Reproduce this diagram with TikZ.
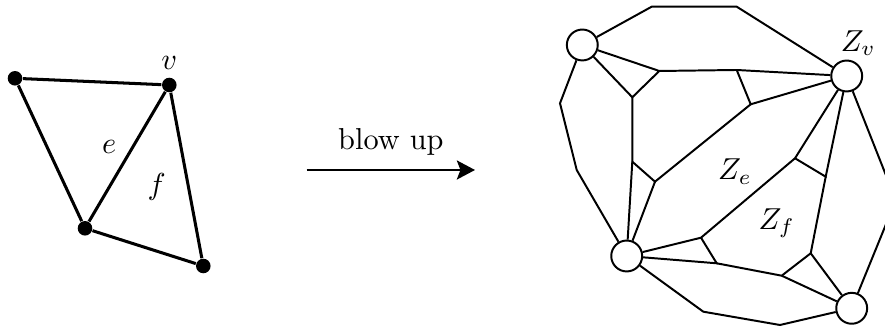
\documentclass[tikz,border=0pt]{standalone}
\usetikzlibrary{arrows.meta}

\begin{document}
\begin{tikzpicture}[x=0.33pt, y=-0.33pt,
    dot/.style={circle, fill=black, inner sep=0pt, minimum size=4.8pt},
    zone/.style={circle, draw, line width=0.65pt, fill=white, inner sep=0pt, minimum size=10.2pt},
    edge/.style={line width=1pt},
    wall/.style={line width=0.65pt}]
    \useasboundingbox (0,0) rectangle (885,329);

    % Original graph with vertex v, edge e, face f
    \node[dot] (p1) at (15,78.3) {};
    \node[dot] (pv) at (169.3,85) {};
    \node[dot] (p3) at (85,228.3) {};
    \node[dot] (p4) at (203.3,266) {};
    \draw[edge] (p1) -- (pv) -- (p3) -- (p1);
    \draw[edge] (pv) -- (p4) -- (p3);
    \node (lv) at (169.3,63) {$v$};
    \node (le) at (109.3,146.7) {$e$};
    \node (lf) at (156.7,186.7) {$f$};

    % Arrow
    \coordinate (arrs) at (306.7,170);
    \coordinate (arre) at (475,170);
    \draw[line width=0.7pt, -{Stealth[length=6pt, width=6.3pt, inset=1.2pt]}] (arrs) -- (arre) node[midway, above=1pt] {blow up};

    % Blown up graph: zones of the vertices
    \node[zone] (za) at (582.3,45) {};
    \node[zone] (zv) at (846.7,76) {};
    \node[zone] (zc) at (626.7,256) {};
    \node[zone] (zd) at (851.7,308.3) {};

    % Outer boundary
    \coordinate (o1) at (651.7,6.7);
    \coordinate (o2) at (736.7,6.7);
    \coordinate (o3) at (891,188);
    \coordinate (o4) at (560,103.3);
    \coordinate (o5) at (576.7,170);
    \coordinate (o6) at (703.3,311.7);
    \coordinate (o7) at (780,325);
    \coordinate (o8) at (891,212);
    \draw[wall] (za) -- (o1) -- (o2) -- (zv);
    \draw[wall] (zv) -- (o3) -- (o8) -- (zd);
    \draw[wall] (za) -- (o4) -- (o5) -- (zc);
    \draw[wall] (zc) -- (o6) -- (o7) -- (zd);

    % Inner junctions
    \coordinate (j1) at (659.3,71);
    \coordinate (j2) at (632.3,97.3);
    \coordinate (j3) at (736.7,70);
    \coordinate (j4) at (750.7,104.3);
    \coordinate (j5) at (632.3,161.7);
    \coordinate (j6) at (655,181.7);
    \coordinate (j7) at (795,158.3);
    \coordinate (j8) at (825.7,176.7);
    \coordinate (j9) at (701,237.7);
    \coordinate (j10) at (716.7,263.3);
    \coordinate (j11) at (781.7,275.7);
    \coordinate (j12) at (810.7,253.3);

    \draw[wall] (za) -- (j1) -- (j2) -- (za);
    \draw[wall] (j1) -- (j3) -- (zv);
    \draw[wall] (j3) -- (j4) -- (zv);
    \draw[wall] (j2) -- (j5) -- (j6) -- (j4);
    \draw[wall] (j5) -- (zc);
    \draw[wall] (j6) -- (zc);
    \draw[wall] (zv) -- (j7) -- (j8) -- (zv);
    \draw[wall] (j7) -- (j9) -- (zc);
    \draw[wall] (j9) -- (j10) -- (zc);
    \draw[wall] (j10) -- (j11) -- (j12) -- (j8);
    \draw[wall] (j12) -- (zd);
    \draw[wall] (j11) -- (zd);

    % Labels
    \node (lzv) at (858.3,43.3) {$Z_v$};
    \node (lze) at (735,171.7) {$Z_e$};
    \node (lzf) at (776.7,223.3) {$Z_f$};
\end{tikzpicture}
\end{document}
